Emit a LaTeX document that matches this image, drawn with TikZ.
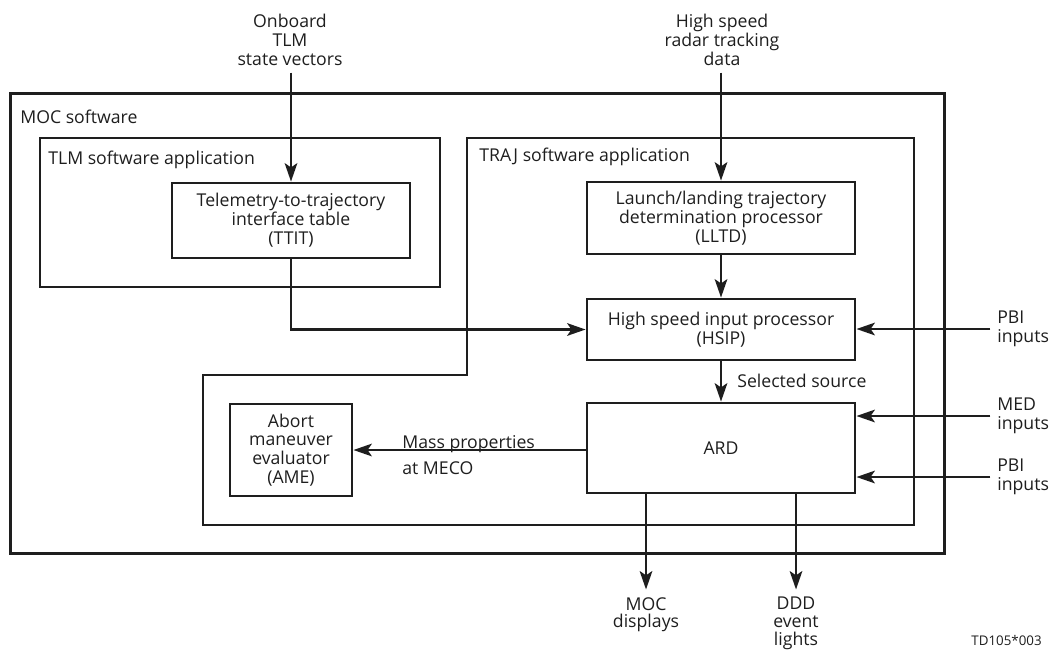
\documentclass[tikz,border=0pt]{standalone}
\usepackage{fontspec}
\setmainfont{Open Sans}
\usetikzlibrary{arrows.meta}
\definecolor{ink}{HTML}{1E1E1E}
\begin{document}
\begin{tikzpicture}[x=0.6pt,y=-0.6pt,
  every node/.style={font=\fontsize{10.6}{11.3}\selectfont, text=ink},
  thickbox/.style={draw=ink, line width=1.7pt, inner sep=0pt, align=center},
  container/.style={draw=ink, line width=0.9pt},
  outerbox/.style={draw=ink, line width=1.8pt},
  arr/.style={draw=ink, line width=1.7pt, -{Stealth[length=11pt,width=7.5pt,inset=2.5pt]}},
  lbl/.style={inner sep=0pt, align=center},
  lbll/.style={inner sep=0pt, align=left, anchor=west},
  outlbl/.style={lbl, anchor=north, font=\fontsize{10.6}{10.6}\selectfont},
]
\useasboundingbox (0,0) rectangle (1050,650);

% containers
\draw[outerbox] (10,93) rectangle (944,553);
\draw[container] (40,138) rectangle (440,287);
\draw[container] (467,138) -- (914,138) -- (914,525) -- (203,525) -- (203,375) -- (467,375) -- cycle;
\node[lbll] (moclbl) at (20,117) {MOC software};
\node[lbll] (tlmlbl) at (48,160) {TLM software application};
\node[lbll] (trajlbl) at (479,157) {TRAJ software application};

% boxes
\node[thickbox, minimum width=142.8pt, minimum height=45pt] (ttit) at (291,220.5) {Telemetry-to-trajectory\\interface table\\(TTIT)};
\node[thickbox, minimum width=160.8pt, minimum height=43.2pt] (lltd) at (721,218) {Launch/landing trajectory\\determination processor\\(LLTD)};
\node[thickbox, minimum width=160.8pt, minimum height=36.6pt] (hsip) at (721,329.5) {High speed input processor\\(HSIP)};
\node[thickbox, minimum width=160.8pt, minimum height=54pt] (ard) at (721,448) {ARD};
\node[thickbox, minimum width=73.2pt, minimum height=55.2pt] (ame) at (291,450) {Abort\\maneuver\\evaluator\\(AME)};

% external sources
\node[lbl] (onboard) at (290,40) {Onboard\\TLM\\state vectors};
\node[lbl] (radar) at (722,40) {High speed\\radar tracking\\data};
\draw[arr, shorten <=4pt] (ttit.north |- onboard.south) -- (ttit.north);
\draw[arr, shorten <=4pt] (lltd.north |- radar.south) -- (lltd.north);

% internal flows
\draw[arr] (lltd) -- (hsip);
\draw[arr] (hsip) -- (ard);
\node[lbll] (sel) at (737,381) {Selected source};
\draw[arr] (ttit.south) |- (hsip.west);
\draw[arr] (ard.west |- ame.east) -- (ame.east);
\node[inner sep=0pt, anchor=base west] (mass) at (402,448) {Mass properties};
\node[inner sep=0pt, anchor=base west] (meco) at (402,474) {at MECO};

% right inputs
\node[lbll] (pbia) at (997,329) {PBI\\inputs};
\node[lbll] (med) at (997,416) {MED\\inputs};
\node[lbll] (pbib) at (997,477) {PBI\\inputs};
\draw[arr, shorten <=4pt] (pbia.west) -- (pbia.west -| hsip.east);
\draw[arr, shorten <=4pt] (med.west) -- (med.west -| ard.east);
\draw[arr, shorten <=4pt] (pbib.west) -- (pbib.west -| ard.east);

% outputs
\node[outlbl] (mocd) at (646,597) {MOC\\displays};
\node[outlbl] (ddd) at (796,597) {DDD\\event\\lights};
\draw[arr, shorten >=4.5pt] (ard.south -| mocd.north) -- (mocd.north);
\draw[arr, shorten >=4.5pt] (ard.south -| ddd.north) -- (ddd.north);

\node[inner sep=0pt, anchor=east, font=\fontsize{8}{9.6}\selectfont] (td) at (1042,640) {TD105*003};
\end{tikzpicture}
\end{document}
